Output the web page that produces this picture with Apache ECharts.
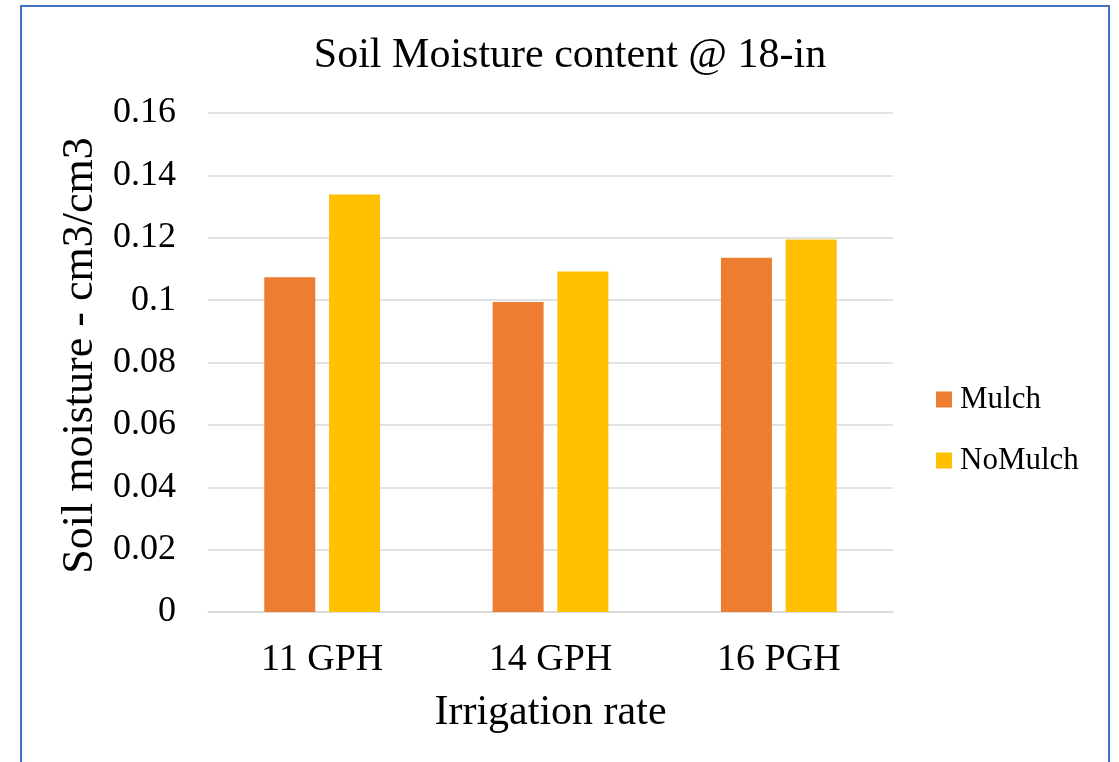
<!DOCTYPE html>
<html>
<head>
<meta charset="utf-8">
<style>html,body{margin:0;padding:0;background:#fff;}#c{width:1119px;height:762px;}</style>
<script src="https://cdn.jsdelivr.net/npm/echarts@6/dist/echarts.min.js"></script>
</head>
<body>
<div id="c"></div>
<script>
const categories = ['11 GPH', '14 GPH', '16 PGH'];
const mulch = [0.1073, 0.0994, 0.1136];
const noMulch = [0.1339, 0.1092, 0.1194];
const seriesNames = ['Mulch', 'NoMulch'];
const colors = ['#ED7D31', '#FFC000'];

const FONT = '"Liberation Serif", "Times New Roman", serif';
const chart = echarts.init(document.getElementById('c'));
chart.setOption({
  animation: false,
  textStyle: { fontFamily: FONT, color: '#000' },
  graphic: [{
    type: 'rect', shape: { x: 21, y: 6, width: 1088, height: 800 },
    style: { fill: 'none', stroke: '#4472C4', lineWidth: 2 }, silent: true
  }],
  title: {
    text: 'Soil Moisture content @ 18-in',
    left: 565, top: 30, textAlign: 'center',
    textStyle: { fontFamily: FONT, fontSize: 42, fontWeight: 'normal', color: '#000' }
  },
  legend: {
    orient: 'vertical', left: 936, top: 384, itemWidth: 16, itemHeight: 16, itemGap: 30,
    padding: 0, icon: 'rect',
    textStyle: { fontFamily: FONT, fontSize: 31, color: '#000', padding: [0,0,0,3] },
    data: seriesNames
  },
  grid: { left: 208, right: 226, top: 113, bottom: 150, containLabel: false },
  xAxis: {
    type: 'category', data: categories,
    name: 'Irrigation rate', nameLocation: 'middle', nameGap: 80,
    nameTextStyle: { fontFamily: FONT, fontSize: 42, color: '#000' },
    axisLine: { lineStyle: { color: '#d9d9d9', width: 1.5 } },
    axisTick: { show: false },
    axisLabel: { fontFamily: FONT, fontSize: 38, color: '#000', margin: 29 }
  },
  yAxis: {
    type: 'value', min: 0, max: 0.16, interval: 0.02,
    name: 'Soil moisture - cm3/cm3', nameLocation: 'middle', nameGap: 104,
    nameTextStyle: { fontFamily: FONT, fontSize: 44, color: '#000', padding: [0,0,0,14] },
    axisLine: { show: false }, axisTick: { show: false },
    splitLine: { lineStyle: { color: '#d9d9d9', width: 1.5 } },
    axisLabel: { fontFamily: FONT, fontSize: 36, color: '#000', margin: 32,
      formatter: v => String(parseFloat(v.toFixed(2))) }
  },
  series: [
    { name: seriesNames[0], type: 'bar', data: mulch, barWidth: 51, barGap: '27%',
      itemStyle: { color: colors[0] } },
    { name: seriesNames[1], type: 'bar', data: noMulch, barWidth: 51, barGap: '27%',
      itemStyle: { color: colors[1] } }
  ]
});
</script>
</body>
</html>
